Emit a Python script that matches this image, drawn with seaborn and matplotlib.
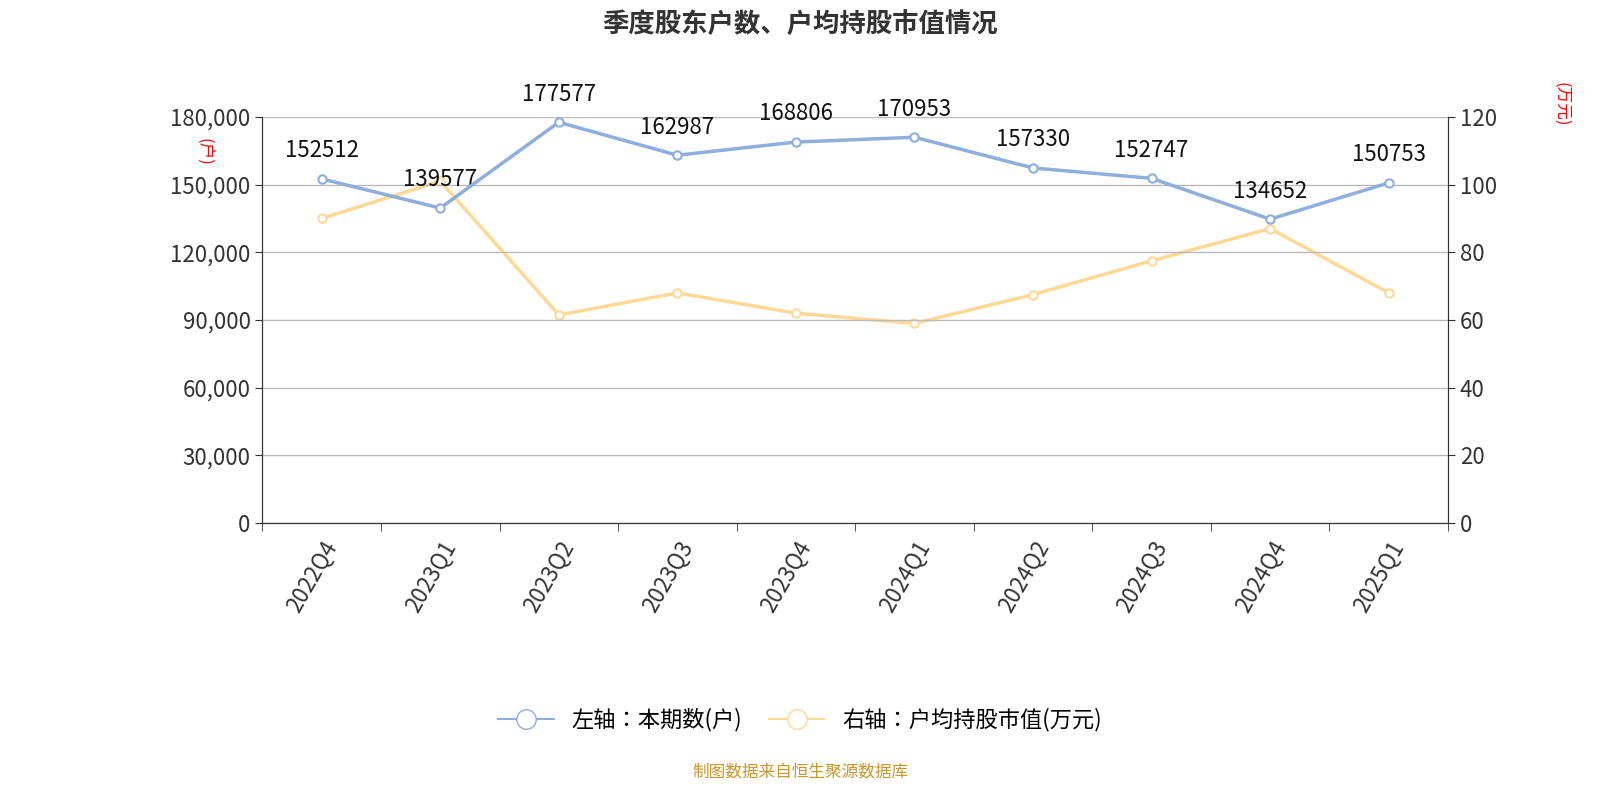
import matplotlib
matplotlib.use("Agg")
import matplotlib.pyplot as plt
import seaborn as sns
import pandas as pd
from matplotlib.lines import Line2D

plt.rcParams["font.family"] = ["Noto Sans CJK SC", "Noto Sans CJK JP", "Noto Sans CJK TC", "Noto Sans CJK KR", "DejaVu Sans"]
plt.rcParams["axes.unicode_minus"] = False

quarters = ["2022Q4","2023Q1","2023Q2","2023Q3","2023Q4","2024Q1","2024Q2","2024Q3","2024Q4","2025Q1"]
holders = [152512,139577,177577,162987,168806,170953,157330,152747,134652,150753]
avg_value = [90,101,61.5,68,62,59,67.5,77.5,87,68]
left_ticks = [0,30000,60000,90000,120000,150000,180000]
right_ticks = [0,20,40,60,80,100,120]

df = pd.DataFrame({"q": quarters, "x": range(len(quarters)), "h": holders, "v": avg_value})
blue = "#8eaedb"; yellow = "#fdd995"

fig = plt.figure(figsize=(16, 8), dpi=100)
ax = fig.add_axes([0.164, 0.346, 0.741, 0.508])
ax2 = ax.twinx()

sns.lineplot(data=df, x="x", y="h", ax=ax, color=blue, lw=2.5, marker="o",
             markersize=6, markerfacecolor="white", markeredgecolor=blue, markeredgewidth=1.5, zorder=5)
sns.lineplot(data=df, x="x", y="v", ax=ax2, color=yellow, lw=2.5, marker="o",
             markersize=6, markerfacecolor="white", markeredgecolor=yellow, markeredgewidth=1.5)
ax.set_zorder(ax2.get_zorder() + 1); ax.patch.set_visible(False)

for x, h in zip(df.x, df.h):
    ax.annotate(str(h), (x, h), xytext=(0, 12), textcoords="offset points",
                ha="center", va="bottom", fontsize=16, color="#111111")

ax.set_xlim(-0.5, len(quarters) - 0.5)
ax.set_ylim(0, 180000); ax2.set_ylim(0, 120)
ax.set_yticks(left_ticks); ax.set_yticklabels([f"{t:,}" for t in left_ticks])
ax2.set_yticks(right_ticks)
ax.set_xticks(range(len(quarters))); ax.set_xticklabels(quarters, rotation=60, ha="right", rotation_mode="anchor")
ax.set_xticks([i - 0.5 for i in range(len(quarters) + 1)], minor=True)
ax.tick_params(axis="x", which="major", length=0, labelsize=16, colors="#333333", pad=10)
ax.tick_params(axis="x", which="minor", length=6, color="#333333")
ax.tick_params(axis="y", labelsize=16, colors="#333333", length=5)
ax2.tick_params(axis="y", labelsize=16, colors="#333333", length=5)
ax.set_xlabel(""); ax.set_ylabel(""); ax2.set_ylabel("")
ax.grid(axis="y", color="#bbbbbb", lw=1); ax.grid(axis="x", visible=False)
for a in (ax, ax2):
    a.spines["top"].set_visible(False)
    for s in ("left", "right", "bottom"):
        a.spines[s].set_color("#333333")

fig.text(0.127, 0.81, "(户)", rotation=-90, color="red", fontsize=12, ha="center", va="center")
fig.text(0.976, 0.87, "(万元)", rotation=-90, color="red", fontsize=12, ha="center", va="center")
fig.text(0.5, 0.97, "季度股东户数、户均持股市值情况", ha="center", va="center", fontsize=19, fontweight="bold", color="#333333")

handles = [Line2D([], [], color=blue, lw=1.5, marker="o", markersize=14, markerfacecolor="white", markeredgecolor=blue),
           Line2D([], [], color=yellow, lw=1.5, marker="o", markersize=14, markerfacecolor="white", markeredgecolor=yellow)]
fig.legend(handles, ["左轴：本期数(户)", "右轴：户均持股市值(万元)"], loc="center", bbox_to_anchor=(0.5, 0.1),
           ncol=2, frameon=False, fontsize=16, handlelength=2.5, columnspacing=1.2)
fig.text(0.5, 0.035, "制图数据来自恒生聚源数据库", ha="center", va="center", fontsize=12, color="#c8962a")
fig.savefig("out.png", dpi=100)
